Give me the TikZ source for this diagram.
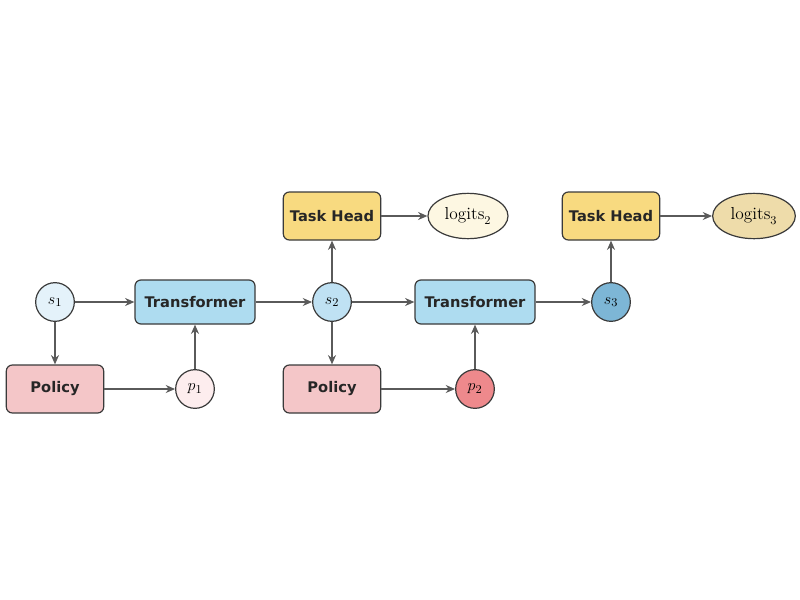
\documentclass[tikz,border=0pt]{standalone}
\usepackage{fontspec}
\setsansfont{DejaVu Sans}
\usetikzlibrary{arrows.meta,shapes.geometric}

\definecolor{edgegray}{HTML}{5A5A5A}
\definecolor{rimgray}{HTML}{3A3A3A}
\definecolor{tfblue}{HTML}{AEDCF0}
\definecolor{polred}{HTML}{F4C6C8}
\definecolor{headgold}{HTML}{F8DA80}
\definecolor{sonefill}{HTML}{E4F2FA}
\definecolor{stwofill}{HTML}{BFE1F3}
\definecolor{sthreefill}{HTML}{7DB6D6}
\definecolor{ponefill}{HTML}{FDEDEE}
\definecolor{ptwofill}{HTML}{EE898C}
\definecolor{lgtwofill}{HTML}{FDF7E2}
\definecolor{lgthreefill}{HTML}{EEDCAA}

\tikzset{
  block/.style={draw=rimgray, line width=0.9pt, rounded corners=4.5pt,
    font=\sffamily\bfseries\fontsize{11}{13}\selectfont, text=black!85},
  tfblock/.style={block, fill=tfblue, minimum width=90pt, minimum height=33pt},
  polblock/.style={block, fill=polred, minimum width=73pt, minimum height=36pt},
  headblock/.style={block, fill=headgold, minimum width=73pt, minimum height=36pt},
  statenode/.style={circle, draw=rimgray, line width=0.9pt, minimum size=29pt,
    inner sep=0pt, font=\fontsize{13}{15}\selectfont},
  logitnode/.style={ellipse, draw=rimgray, line width=0.9pt, minimum width=60pt,
    minimum height=34pt, inner sep=0pt, font=\fontsize{13}{15}\selectfont},
  flow/.style={-{Stealth[length=7pt,width=6pt]}, draw=edgegray, line width=1pt}
}

\begin{document}
\begin{tikzpicture}[x=0.75pt, y=-0.75pt]
  \useasboundingbox (0,0) rectangle (800,600);

  % step 1
  \node[statenode, fill=sonefill] (s1) at (55,302) {$s_1$};
  \node[polblock] (pol1) at (55,389) {Policy};
  \node[statenode, fill=ponefill] (p1) at (195,389) {$p_1$};
  \node[tfblock] (tf1) at (195,302) {Transformer};

  % step 2
  \node[statenode, fill=stwofill] (s2) at (332,302) {$s_2$};
  \node[headblock] (head1) at (332,216) {Task Head};
  \node[logitnode, fill=lgtwofill] (lg2) at (468,216) {$\mathrm{logits}_2$};
  \node[polblock] (pol2) at (332,389) {Policy};
  \node[statenode, fill=ptwofill] (p2) at (475,389) {$p_2$};
  \node[tfblock] (tf2) at (475,302) {Transformer};

  % step 3
  \node[statenode, fill=sthreefill] (s3) at (611,302) {$s_3$};
  \node[headblock] (head2) at (611,216) {Task Head};
  \node[logitnode, fill=lgthreefill, minimum width=62pt] (lg3) at (754,216) {$\mathrm{logits}_3$};

  \draw[flow] (s1) -- (tf1);
  \draw[flow] (s1) -- (pol1);
  \draw[flow] (pol1) -- (p1);
  \draw[flow] (p1) -- (tf1);
  \draw[flow] (tf1) -- (s2);
  \draw[flow] (s2) -- (head1);
  \draw[flow] (head1) -- (lg2);
  \draw[flow] (s2) -- (tf2);
  \draw[flow] (s2) -- (pol2);
  \draw[flow] (pol2) -- (p2);
  \draw[flow] (p2) -- (tf2);
  \draw[flow] (tf2) -- (s3);
  \draw[flow] (s3) -- (head2);
  \draw[flow] (head2) -- (lg3);
\end{tikzpicture}
\end{document}
